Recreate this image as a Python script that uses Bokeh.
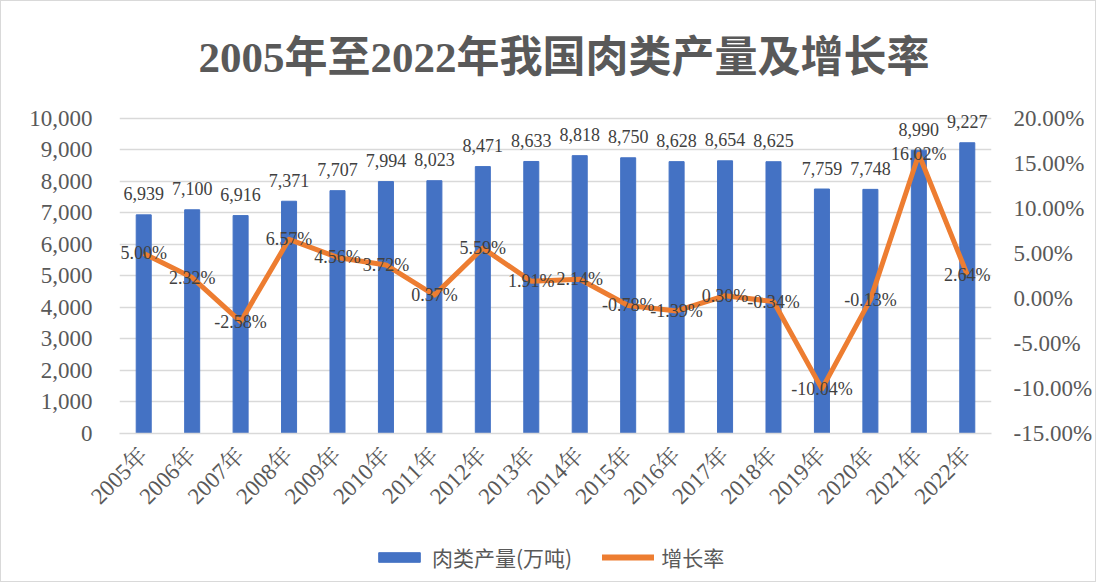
import math
from bokeh.plotting import figure
from bokeh.layouts import column
from bokeh.models import (ColumnDataSource, LabelSet, LinearAxis, Range1d, FactorRange,
                          NumeralTickFormatter, PrintfTickFormatter, FixedTicker, Legend, LegendItem)
from bokeh.embed import file_html
from bokeh.resources import INLINE

years = ["2005年", "2006年", "2007年", "2008年", "2009年", "2010年", "2011年", "2012年", "2013年",
         "2014年", "2015年", "2016年", "2017年", "2018年", "2019年", "2020年", "2021年", "2022年"]
production = [6939, 7100, 6916, 7371, 7707, 7994, 8023, 8471, 8633,
              8818, 8750, 8628, 8654, 8625, 7759, 7748, 8990, 9227]
growth = [5.00, 2.32, -2.58, 6.57, 4.56, 3.72, 0.37, 5.59, 1.91,
          2.14, -0.78, -1.39, 0.30, -0.34, -10.04, -0.13, 16.02, 2.64]
left_ticks = list(range(0, 10001, 1000))
right_ticks = [-15, -10, -5, 0, 5, 10, 15, 20]
series_names = ["肉类产量(万吨)", "增长率"]

SERIF = "'Liberation Serif', 'Noto Serif CJK SC', 'Noto Sans CJK SC'"
SANS = "'Noto Sans CJK SC'"
GRAY = "#595959"
DARK = "#404040"
BLUE = "#4472C4"
ORANGE = "#ED7D31"

# ranges: ticks stop at 10,000 / 20%, a little headroom above so top labels are not clipped
Y_MAX = 10600
PCT_MIN = -15
PCT_MAX = PCT_MIN + 35 * Y_MAX / 10000

src = ColumnDataSource(dict(
    year=years, prod=production, growth=growth,
    prod_lbl=["{:,}".format(v) for v in production],
    growth_lbl=["{:.2f}%".format(v) for v in growth],
))

p = figure(width=1094, height=520, x_range=FactorRange(*years), y_range=Range1d(0, Y_MAX),
           output_backend="svg", toolbar_location=None,
           min_border_left=118, min_border_right=98, min_border_top=98, min_border_bottom=88)
p.outline_line_color = None
p.extra_y_ranges = {"pct": Range1d(PCT_MIN, PCT_MAX)}

bars = p.vbar(x="year", top="prod", width=0.31, source=src, color=BLUE)
line = p.line(x="year", y="growth", source=src, y_range_name="pct",
              line_color=ORANGE, line_width=5, line_join="round")

p.add_layout(LabelSet(x="year", y="prod", text="prod_lbl", source=src, y_offset=21,
                      text_align="center", text_baseline="middle", text_font=SERIF,
                      text_font_size="18px", text_color=DARK))
p.add_layout(LabelSet(x="year", y="growth", text="growth_lbl", source=src, y_range_name="pct",
                      text_align="center", text_baseline="middle", text_font=SERIF,
                      text_font_size="18px", text_color=DARK))

# axes
p.yaxis.ticker = FixedTicker(ticks=left_ticks)
p.yaxis.formatter = NumeralTickFormatter(format="0,0")
p.yaxis.axis_line_color = None
p.yaxis.major_tick_line_color = None
p.yaxis.minor_tick_line_color = None
p.yaxis.major_label_text_font = SERIF
p.yaxis.major_label_text_font_size = "23px"
p.yaxis.major_label_text_color = GRAY
p.yaxis.major_label_standoff = 21

ra = LinearAxis(y_range_name="pct", ticker=FixedTicker(ticks=right_ticks),
                formatter=PrintfTickFormatter(format="%.2f%%"))
ra.axis_line_color = None
ra.major_tick_line_color = None
ra.minor_tick_line_color = None
ra.major_label_text_font = SERIF
ra.major_label_text_font_size = "23px"
ra.major_label_text_color = GRAY
ra.major_label_standoff = 16
p.add_layout(ra, "right")

p.xaxis.axis_line_color = "#d9d9d9"
p.xaxis.axis_line_width = 1.5
p.xaxis.major_tick_line_color = None
p.xaxis.minor_tick_line_color = None
p.xaxis.major_label_orientation = math.pi / 4
p.xaxis.major_label_text_font = SERIF
p.xaxis.major_label_text_font_size = "23px"
p.xaxis.major_label_text_color = GRAY
p.xaxis.major_label_standoff = 12

p.xgrid.grid_line_color = None
p.ygrid.ticker = FixedTicker(ticks=left_ticks)
p.ygrid.grid_line_color = "#d9d9d9"
p.ygrid.grid_line_width = 1.5

# title
p.title.text = "2005年至2022年我国肉类产量及增长率"
p.title.align = "left"
p.title.offset = 79
p.title.text_font = "'Liberation Serif', 'Noto Sans CJK SC'"
p.title.text_font_style = "bold"
p.title.text_font_size = "43px"
p.title.text_color = GRAY
p.title.standoff = 37

# legend in its own strip under the chart (renderers hold points outside the visible range)
lf = figure(width=1094, height=60, x_range=Range1d(0, 1), y_range=Range1d(0, 1),
            output_backend="svg", toolbar_location=None, x_axis_type=None, y_axis_type=None,
            min_border=0)
lf.outline_line_color = None
lf.xgrid.visible = False
lf.ygrid.visible = False
lb = lf.vbar(x=[-10], top=[-5], width=0.3, color=BLUE)
ll = lf.line(x=[-10, -9], y=[-5, -5], line_color=ORANGE, line_width=6, line_cap="round")
legend = Legend(items=[LegendItem(label=series_names[0], renderers=[lb]),
                       LegendItem(label=series_names[1], renderers=[ll])],
                orientation="horizontal", location=(254, 9),
                label_text_font=SANS, label_text_font_size="21px", label_text_color=GRAY,
                glyph_width=52, glyph_height=12, label_standoff=7, spacing=30,
                border_line_color=None, background_fill_alpha=0, margin=0, padding=0)
lf.add_layout(legend)

layout = column(p, lf, spacing=0, styles={"border": "1px solid #d9d9d9"})
open("out.html", "w").write(file_html(layout, INLINE))
